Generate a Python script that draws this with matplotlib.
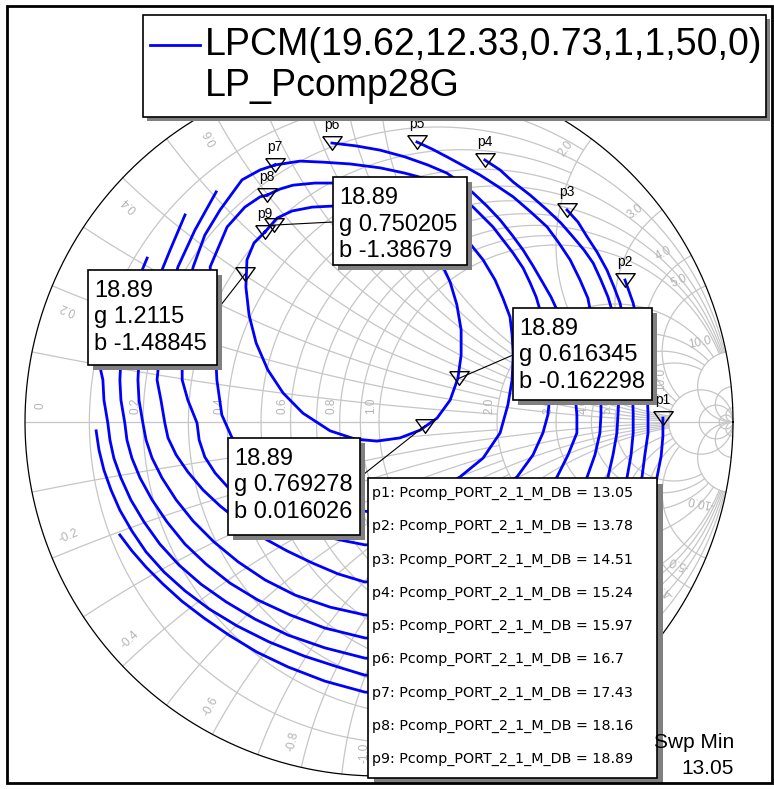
import numpy as np
import matplotlib
matplotlib.use('Agg')
from matplotlib import pyplot as plt
from matplotlib.patches import Rectangle

plt.rcParams['font.family'] = ['Liberation Sans', 'DejaVu Sans']

# contour levels, one per marker p1..p9
levels = [13.05, 13.78, 14.51, 15.24, 15.97, 16.7, 17.43, 18.16, 18.89]
marker_names = ['p1', 'p2', 'p3', 'p4', 'p5', 'p6', 'p7', 'p8', 'p9']
meas_name = 'Pcomp_PORT_2_1_M_DB'

p1_re = [0.802, 0.802, 0.797, 0.785, 0.709, 0.540, 0.285, 0.059, -0.040, -0.153, -0.257, -0.345, -0.424,
         -0.494, -0.557, -0.610, -0.658, -0.698, -0.732]
p1_im = [0.011, -0.040, -0.096, -0.158, -0.390, -0.588, -0.729, -0.768, -0.763, -0.732, -0.692, -0.650, -0.602,
         -0.554, -0.506, -0.458, -0.410, -0.364, -0.319]
p2_re = [0.695, 0.718, 0.740, 0.757, 0.760, 0.760, 0.751, 0.743, 0.653, 0.483, 0.229, 0.059, -0.040, -0.116,
         -0.212, -0.311, -0.401, -0.480, -0.548, -0.607, -0.658, -0.698, -0.732, -0.757, -0.777, -0.791, -0.799]
p2_im = [0.401, 0.336, 0.232, 0.105, 0.020, -0.031, -0.093, -0.155, -0.390, -0.573, -0.686, -0.720, -0.715, -0.692,
         -0.661, -0.621, -0.576, -0.528, -0.477, -0.424, -0.367, -0.308, -0.249, -0.192, -0.136, -0.079, -0.025]
p3_re = [0.531, 0.562, 0.588, 0.616, 0.644, 0.664, 0.681, 0.701, 0.715, 0.718, 0.718, 0.712, 0.701, 0.610, 0.441,
         0.201, 0.059, -0.040, -0.153, -0.257, -0.350, -0.432, -0.503, -0.565, -0.619, -0.664, -0.701, -0.729,
         -0.749, -0.760, -0.766, -0.777, -0.780, -0.788]
p3_im = [0.599, 0.565, 0.523, 0.480, 0.429, 0.381, 0.336, 0.232, 0.105, 0.028, -0.031, -0.093, -0.155, -0.390,
         -0.545, -0.644, -0.672, -0.667, -0.638, -0.602, -0.557, -0.508, -0.458, -0.404, -0.345, -0.282, -0.220,
         -0.158, -0.102, -0.051, -0.003, 0.062, 0.119, 0.155]
p4_re = [0.299, 0.342, 0.379, 0.427, 0.475, 0.514, 0.548, 0.579, 0.605, 0.627, 0.647, 0.658, 0.672, 0.678, 0.675,
         0.672, 0.661, 0.647, 0.554, 0.398, 0.172, 0.045, -0.040, -0.153, -0.251, -0.342, -0.421, -0.489, -0.548,
         -0.599, -0.641, -0.675, -0.698, -0.712, -0.718, -0.729, -0.732, -0.726, -0.703, -0.675, -0.655]
p4_im = [0.740, 0.712, 0.678, 0.641, 0.599, 0.562, 0.523, 0.486, 0.449, 0.401, 0.353, 0.316, 0.203, 0.076, 0.020,
         -0.031, -0.093, -0.155, -0.376, -0.503, -0.593, -0.616, -0.610, -0.582, -0.545, -0.503, -0.455, -0.401,
         -0.345, -0.282, -0.220, -0.158, -0.102, -0.051, -0.003, 0.062, 0.119, 0.232, 0.345, 0.415, 0.463]
p5_re = [0.107, 0.150, 0.192, 0.240, 0.285, 0.333, 0.379, 0.429, 0.475, 0.508, 0.540, 0.568, 0.590, 0.613, 0.627,
         0.627, 0.624, 0.610, 0.588, 0.497, 0.342, 0.144, 0.031, -0.040, -0.138, -0.237, -0.322, -0.398, -0.466,
         -0.525, -0.573, -0.613, -0.641, -0.658, -0.667, -0.678, -0.681, -0.675, -0.647, -0.619, -0.590, -0.548]
p5_im = [0.791, 0.771, 0.749, 0.723, 0.698, 0.667, 0.636, 0.593, 0.551, 0.506, 0.458, 0.401, 0.350, 0.232, 0.090,
         0.020, -0.031, -0.093, -0.155, -0.333, -0.446, -0.531, -0.548, -0.545, -0.523, -0.489, -0.446, -0.395,
         -0.339, -0.280, -0.220, -0.158, -0.102, -0.051, -0.003, 0.062, 0.119, 0.232, 0.345, 0.415, 0.486, 0.585]
p6_re = [-0.133, -0.065, 0.003, 0.073, 0.138, 0.192, 0.232, 0.266, 0.305, 0.342, 0.376, 0.407, 0.435, 0.463, 0.486,
         0.503, 0.531, 0.554, 0.559, 0.559, 0.534, 0.503, 0.398, 0.229, 0.059, -0.040, -0.116, -0.189, -0.260,
         -0.331, -0.393, -0.449, -0.497, -0.540, -0.573, -0.596, -0.605, -0.616, -0.627, -0.610, -0.568, -0.520,
         -0.460]
p6_im = [0.788, 0.780, 0.768, 0.749, 0.726, 0.703, 0.675, 0.647, 0.610, 0.571, 0.528, 0.486, 0.441, 0.393, 0.353,
         0.316, 0.203, 0.076, 0.020, -0.031, -0.093, -0.155, -0.291, -0.404, -0.446, -0.452, -0.429, -0.398, -0.364,
         -0.325, -0.282, -0.237, -0.192, -0.141, -0.093, -0.045, -0.003, 0.062, 0.119, 0.288, 0.438, 0.542, 0.650]
p7_re = [-0.294, -0.223, -0.158, -0.082, 0.003, 0.073, 0.144, 0.206, 0.266, 0.322, 0.379, 0.407, 0.427, 0.444,
         0.455, 0.477, 0.483, 0.477, 0.463, 0.435, 0.390, 0.257, 0.088, 0.017, -0.040, -0.096, -0.161, -0.223,
         -0.336, -0.427, -0.463, -0.492, -0.508, -0.514, -0.540, -0.556, -0.556, -0.545, -0.525, -0.492, -0.449,
         -0.387, -0.336, -0.294]
p7_im = [0.726, 0.737, 0.734, 0.729, 0.718, 0.703, 0.684, 0.650, 0.607, 0.551, 0.477, 0.435, 0.393, 0.353, 0.316,
         0.203, 0.076, 0.020, -0.031, -0.093, -0.155, -0.249, -0.333, -0.347, -0.347, -0.336, -0.322, -0.299,
         -0.251, -0.184, -0.144, -0.099, -0.051, -0.003, 0.062, 0.119, 0.232, 0.345, 0.438, 0.528, 0.599, 0.684,
         0.712, 0.726]
p8_re = [-0.316, -0.280, -0.243, -0.181, -0.121, 0.003, 0.144, 0.249, 0.294, 0.328, 0.350, 0.370, 0.376, 0.379,
         0.376, 0.364, 0.342, 0.294, 0.229, 0.116, -0.025, -0.167, -0.294, -0.393, -0.415, -0.444, -0.458, -0.466,
         -0.477, -0.429, -0.379, -0.336, -0.316]
p8_im = [0.641, 0.658, 0.669, 0.675, 0.675, 0.661, 0.613, 0.514, 0.458, 0.401, 0.350, 0.297, 0.246, 0.189, 0.119,
         0.048, -0.031, -0.102, -0.155, -0.220, -0.254, -0.234, -0.164, -0.065, -0.045, 0.020, 0.119, 0.288, 0.438,
         0.551, 0.607, 0.636, 0.641]
p9_re = [-0.322, -0.288, -0.246, -0.189, -0.130, -0.025, 0.073, 0.138, 0.172, 0.201, 0.220, 0.232, 0.232, 0.223,
         0.201, 0.164, 0.116, 0.059, -0.006, -0.068, -0.138, -0.215, -0.271, -0.314, -0.347, -0.367, -0.376, -0.373,
         -0.353, -0.322]
p9_im = [0.537, 0.576, 0.596, 0.607, 0.610, 0.607, 0.585, 0.528, 0.458, 0.395, 0.331, 0.260, 0.189, 0.124, 0.062,
         0.011, -0.023, -0.045, -0.054, -0.048, -0.025, 0.025, 0.082, 0.147, 0.223, 0.302, 0.381, 0.458, 0.506,
         0.537]

contours_re = [p1_re, p2_re, p3_re, p4_re, p5_re, p6_re, p7_re, p8_re, p9_re]
contours_im = [p1_im, p2_im, p3_im, p4_im, p5_im, p6_im, p7_im, p8_im, p9_im]

# marker read-outs on the 18.89 contour (normalised admittance)
mk_g = [1.2115, 0.750205, 0.616345, 0.769278]
mk_b = [-1.48845, -1.38679, -0.162298, 0.016026]
mk_level = 18.89

legend_title = 'LPCM(19.62,12.33,0.73,1,1,50,0)'
legend_sub = 'LP_Pcomp28G'

# smith chart grid: resistance circles (with reactance limit) and reactance arcs (with resistance limit)
r_values = [0.1, 0.2, 0.3, 0.4, 0.5, 0.6, 0.7, 0.8, 0.9, 1.0, 2.0, 3.0, 4.0, 5.0, 10.0, 20.0, 50.0]
r_xlimit = [2, 10, 2, 10, 2, 10, 2, 10, 2, 10, 10, 10, 10, 10, None, None, None]
x_values = [0.1, 0.2, 0.3, 0.4, 0.5, 0.6, 0.7, 0.8, 0.9, 1.0, 2.0, 3.0, 4.0, 5.0, 10.0, 20.0, 50.0]
x_rlimit = [2, 10, 2, 10, 2, 10, 2, 10, 2, 10, 10, 10, 10, 10, 1e4, 1e4, 1e4]
r_labels = [0.0, 0.2, 0.4, 0.6, 0.8, 1.0, 2.0, 3.0, 4.0, 5.0, 10.0]
x_labels = [0.2, 0.4, 0.6, 2.0, 3.0, 4.0, 5.0, 10.0]
x_labels_neg = [0.2, 0.4, 0.6, 0.8, 1.0, 2.0, 3.0, 4.0, 5.0, 10.0]

W, H = 774, 789
CX, CY, R = 379, 422, 354

fig = plt.figure(figsize=(W / 100, H / 100), dpi=100)
ax = fig.add_axes([0, 0, 1, 1])
ax.set_xlim(-CX / R, (W - CX) / R)
ax.set_ylim((CY - H) / R, CY / R)
ax.axis('off')

grid_col = '#c6c6c6'
lab_col = '#b4b4b4'


def gamma(z):
    return (z - 1) / (z + 1)


def r_circle(r, xmax=None):
    if xmax is None:
        t = np.linspace(0, 2 * np.pi, 500)
        return r / (1 + r) + np.cos(t) / (1 + r), np.sin(t) / (1 + r)
    xs = np.sinh(np.linspace(-np.arcsinh(xmax * 20), np.arcsinh(xmax * 20), 600)) / 20
    g = gamma(r + 1j * xs)
    return g.real, g.imag


def x_arc(x, rmax):
    rr = np.concatenate([np.linspace(0, min(rmax, 1), 150), np.geomspace(1, rmax, 300)]) if rmax > 1 \
        else np.linspace(0, rmax, 150)
    g = gamma(rr + 1j * x)
    return g.real, g.imag


for r, xl in zip(r_values, r_xlimit):
    ax.plot(*r_circle(r, xl), color=grid_col, lw=0.9, zorder=1)
for x, rl in zip(x_values, x_rlimit):
    for s in (1, -1):
        ax.plot(*x_arc(s * x, rl), color=grid_col, lw=0.9, zorder=1)
ax.plot([-1, 1], [0, 0], color=grid_col, lw=0.9, zorder=1)
t = np.linspace(0, 2 * np.pi, 720)
ax.plot(np.cos(t), np.sin(t), color='black', lw=0.9, zorder=2)

for r in r_labels:
    g0 = (r - 1) / (r + 1)
    gx = g0 + 0.045 if r == 0 else g0 - 0.022
    gy = 0.12 if r == 10 else 0.045
    ax.text(gx, gy, f'{r:.1f}' if r > 0 else '0', rotation=90, color=lab_col,
            fontsize=8.5, ha='center', va='center', zorder=2)
for s, xlist in ((1, x_labels), (-1, x_labels_neg)):
    for x in xlist:
        th = np.degrees(np.arctan2(2 * s * x, x * x - 1))
        a = np.radians(th + 2.5 * s)
        rot = th if s > 0 else th + 180
        ax.text(0.935 * np.cos(a), 0.935 * np.sin(a), f'{s * x:.1f}', rotation=rot,
                rotation_mode='anchor', color=lab_col, fontsize=8.5, ha='center', va='center', zorder=2)

# contours
for re, im in zip(contours_re, contours_im):
    ax.plot(re, im, color='#0000ff', lw=2, zorder=3, solid_joinstyle='round')

tri = [(-1, 0.7), (1, 0.7), (0, -0.7), (-1, 0.7)]
for name, re, im in zip(marker_names, contours_re, contours_im):
    ax.plot(re[0], im[0], marker=tri, ms=14, mfc='none', mec='black', mew=1, zorder=4)
    ax.annotate(name, (re[0], im[0]), xytext=(0, 13), textcoords='offset points',
                ha='center', va='center', fontsize=10, zorder=4)

yv = np.array(mk_g) + 1j * np.array(mk_b)
mk_gam = (1 - yv) / (1 + yv)
for gm in mk_gam:
    ax.plot(gm.real, gm.imag, marker=tri, ms=14, mfc='none', mec='black', mew=1, zorder=4)


def fx(px):
    return px / W


def fy(py):
    return 1 - py / H


def box(x0, y0, x1, y1, shadow=5):
    ax.add_patch(Rectangle((fx(x0 + shadow), fy(y1 + shadow)), fx(x1 - x0), (y1 - y0) / H,
                           transform=fig.transFigure, facecolor='#808080', edgecolor='none',
                           zorder=6, clip_on=False))
    ax.add_patch(Rectangle((fx(x0), fy(y1)), fx(x1 - x0), (y1 - y0) / H,
                           transform=fig.transFigure, facecolor='white', edgecolor='black',
                           lw=1.2, zorder=7, clip_on=False))


# marker read-out boxes: (box left, top, right, bottom, leader start)
boxes = [(88, 270, 217, 365, (217, 310)),
         (333, 177, 467, 265, (333, 222)),
         (513, 308, 652, 400, (513, 355)),
         (228, 438, 360, 535, (364, 474))]
for (x0, y0, x1, y1, lead), gval, bval, gm in zip(boxes, mk_g, mk_b, mk_gam):
    ax.annotate('', xy=(gm.real, gm.imag), xycoords='data', xytext=(fx(lead[0]), fy(lead[1])),
                textcoords='figure fraction',
                arrowprops=dict(arrowstyle='-', lw=0.8, color='black', shrinkA=0, shrinkB=0), zorder=5)
    box(x0, y0, x1, y1)
    for k, s in enumerate([f'{mk_level:.2f}', f'g {gval:g}', f'b {bval:g}']):
        fig.text(fx(x0 + 6), fy(y0 + 21 + 26.5 * k), s, fontsize=17, ha='left', va='center', zorder=8)

# sweep text (partly under the table)
fig.text(fx(734), fy(742), 'Swp Min', fontsize=15, ha='right', va='center', zorder=5)
fig.text(fx(734), fy(768), f'{levels[0]:.2f}', fontsize=15, ha='right', va='center', zorder=5)

# marker table
box(368, 478, 657, 778, shadow=6)
for k, (name, lv) in enumerate(zip(marker_names, levels)):
    fig.text(fx(372), fy(493 + 33.3 * k), f'{name}: {meas_name} = {lv:g}', family='DejaVu Sans',
             fontsize=10.3, ha='left', va='center', zorder=8)

# legend
box(143, 15, 766, 117, shadow=4)
ax.plot([fx(150), fx(200)], [fy(45), fy(45)], color='#0000ff', lw=2, transform=fig.transFigure,
        zorder=8, clip_on=False)
fig.text(fx(205), fy(45), legend_title, fontsize=27, ha='left', va='center', zorder=8)
fig.text(fx(205), fy(86), legend_sub, fontsize=27, ha='left', va='center', zorder=8)

# outer frame
ax.add_patch(Rectangle((fx(7), fy(783)), fx(772 - 7), (783 - 6) / H, transform=fig.transFigure,
                       facecolor='none', edgecolor='black', lw=2, zorder=9, clip_on=False))

fig.savefig('out.png', dpi=100)
